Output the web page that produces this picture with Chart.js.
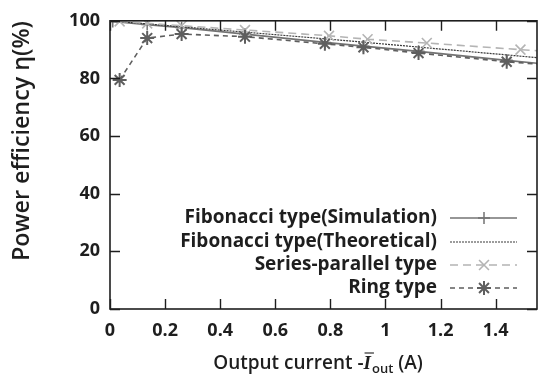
<!DOCTYPE html>
<html><head><meta charset="utf-8">
<script src="https://cdn.jsdelivr.net/npm/chart.js@4"></script>
<style>
html,body{margin:0;padding:0;background:#fff;overflow:hidden;}
#wrap{width:539px;height:376px;overflow:hidden;position:relative;}
#c{position:absolute;left:0;top:0;}
</style></head>
<body><div id="wrap"><canvas id="c" width="546" height="376" style="width:546px;height:376px"></canvas></div>
<script>
const xTickLabels = [0, 0.2, 0.4, 0.6, 0.8, 1, 1.2, 1.4];
const yTickLabels = [0, 20, 40, 60, 80, 100];
const seriesNames = ["Fibonacci type(Simulation)", "Fibonacci type(Theoretical)", "Series-parallel type", "Ring type"];

const fibSimX = [0.01, 0.135, 0.26, 0.49, 0.78, 0.92, 1.12, 1.44, 1.6];
const fibSimY = [99.8, 98.7, 97.6, 95.4, 92.5, 91.2, 89.4, 86.3, 84.8];
const fibTheoX = [0, 0.2, 0.4, 0.6, 0.8, 1.0, 1.2, 1.4, 1.6];
const fibTheoY = [100, 98.4, 96.8, 95.2, 93.6, 91.9, 90.2, 88.5, 86.8];
const spX = [0.035, 0.135, 0.26, 0.49, 0.795, 0.935, 1.15, 1.49, 1.6];
const spY = [99.8, 99.1, 98.3, 96.8, 94.8, 93.6, 92.3, 90.0, 89.3];
const ringX = [0.035, 0.135, 0.26, 0.49, 0.78, 0.92, 1.12, 1.44, 1.6];
const ringY = [79.5, 94.0, 95.4, 94.5, 92.0, 90.8, 88.8, 85.8, 84.6];

const pts = (xs, ys) => xs.map((x, i) => ({x: x, y: ys[i]}));
const FONT = '"Open Sans", "Liberation Sans", sans-serif';
const INK = '#1e1e1e';

const frame = {
  id: 'frame',
  afterDraw(chart) {
    const {ctx, chartArea: a, scales} = chart;
    ctx.save();
    ctx.strokeStyle = INK;
    ctx.lineWidth = 1.6;
    ctx.strokeRect(a.left, a.top, a.right - a.left, a.bottom - a.top);
    ctx.lineWidth = 1.4;
    const tl = 10;
    ctx.beginPath();
    xTickLabels.forEach(v => {
      const px = Math.round(scales.x.getPixelForValue(v)) + 0.5;
      ctx.moveTo(px, a.bottom); ctx.lineTo(px, a.bottom - tl);
      ctx.moveTo(px, a.top); ctx.lineTo(px, a.top + tl);
    });
    yTickLabels.forEach(v => {
      const py = Math.round(scales.y.getPixelForValue(v)) + 0.5;
      ctx.moveTo(a.left, py); ctx.lineTo(a.left + tl, py);
      ctx.moveTo(a.right, py); ctx.lineTo(a.right - tl, py);
    });
    ctx.stroke();

    // legend
    const rows = [218, 242, 265, 288];
    ctx.font = '700 19px ' + FONT;
    ctx.textAlign = 'right';
    ctx.textBaseline = 'middle';
    chart.data.datasets.forEach((ds, i) => {
      const y = rows[i];
      ctx.fillStyle = INK;
      ctx.fillText(ds.label, 437, y);
      ctx.save();
      ctx.strokeStyle = ds.borderColor;
      ctx.lineWidth = ds.borderWidth;
      ctx.setLineDash(ds.borderDash || []);
      ctx.beginPath(); ctx.moveTo(450, y); ctx.lineTo(517, y); ctx.stroke();
      ctx.setLineDash([]);
      if (ds.pointRadius > 0) {
        ctx.strokeStyle = ds.pointBorderColor;
        ctx.fillStyle = ds.pointBorderColor;
        ctx.lineWidth = ds.pointBorderWidth;
        Chart.helpers.drawPoint(ctx, {pointStyle: ds.pointStyle, radius: ds.pointRadius, borderWidth: ds.pointBorderWidth, rotation: 0}, 484, y);
      }
      ctx.restore();
    });

    // y title (sized to span the same length as the reference)
    ctx.save();
    const yt = 'Power efficiency η(%)';
    ctx.font = '600 20px ' + FONT;
    const wy = ctx.measureText(yt).width;
    const sz = Math.min(24, 20 * 240 / wy);
    ctx.font = '600 ' + sz.toFixed(1) + 'px ' + FONT;
    ctx.translate(22, 141);
    ctx.rotate(-Math.PI / 2);
    ctx.textAlign = 'center';
    ctx.textBaseline = 'middle';
    ctx.fillStyle = INK;
    ctx.fillText(yt, 0, 0);
    ctx.restore();

    // x title
    ctx.fillStyle = INK;
    ctx.textAlign = 'left';
    ctx.textBaseline = 'alphabetic';
    const base = 369;
    const partA = 'Output current -';
    const fA = '600 19px ' + FONT;
    const fI = 'italic 600 19px "Liberation Serif", serif';
    const fSub = '600 13px ' + FONT;
    ctx.font = fA; const wA = ctx.measureText(partA).width;
    ctx.font = fI; const wI = ctx.measureText('I').width;
    ctx.font = fSub; const wS = ctx.measureText('out').width;
    ctx.font = fA; const wB = ctx.measureText(' (A)').width;
    const total = wA + wI + 1 + wS + wB;
    let x0 = 318 - total / 2;
    ctx.font = fA; ctx.fillText(partA, x0, base); x0 += wA;
    ctx.font = fI; ctx.fillText('I', x0, base);
    ctx.lineWidth = 1.1; ctx.strokeStyle = INK;
    ctx.beginPath(); ctx.moveTo(x0 + 1, base - 16); ctx.lineTo(x0 + wI + 3, base - 16); ctx.stroke();
    x0 += wI + 1;
    ctx.font = fSub; ctx.fillText('out', x0, base + 4); x0 += wS;
    ctx.font = fA; ctx.fillText(' (A)', x0, base);
    ctx.restore();
  }
};

new Chart(document.getElementById('c'), {
  type: 'scatter',
  data: {
    datasets: [
      {label: seriesNames[0], data: pts(fibSimX, fibSimY), showLine: true, borderColor: '#737373', borderWidth: 1.7,
       pointStyle: 'cross', pointRadius: 6, pointBorderColor: '#737373', pointBorderWidth: 1.5, pointBackgroundColor: '#737373', order: 3},
      {label: seriesNames[1], data: pts(fibTheoX, fibTheoY), showLine: true, borderColor: '#3a3a3a', borderWidth: 1.2, borderDash: [2, 1],
       pointRadius: 0, pointStyle: 'circle', pointBorderColor: '#3a3a3a', pointBorderWidth: 0, order: 2},
      {label: seriesNames[2], data: pts(spX, spY), showLine: true, borderColor: '#b4b4b4', borderWidth: 1.6, borderDash: [8, 5],
       pointStyle: 'crossRot', pointRadius: 7, pointBorderColor: '#b4b4b4', pointBorderWidth: 1.6, pointBackgroundColor: '#b4b4b4', order: 1},
      {label: seriesNames[3], data: pts(ringX, ringY), showLine: true, borderColor: '#5e5e5e', borderWidth: 1.6, borderDash: [5, 4],
       pointStyle: 'star', pointRadius: 7, pointBorderColor: '#5e5e5e', pointBorderWidth: 2, pointBackgroundColor: '#5e5e5e', order: 0}
    ]
  },
  options: {
    responsive: false,
    animation: false,
    events: [],
    layout: {padding: {top: 20, right: 5, left: 0, bottom: 0}},
    plugins: {legend: {display: false}, tooltip: {enabled: false}, title: {display: false}},
    scales: {
      x: {
        type: 'linear', min: 0, max: 1.55,
        afterBuildTicks: s => { s.ticks = xTickLabels.map(v => ({value: v})); },
        afterFit: s => { s.height = 67; },
        grid: {display: false, drawTicks: false},
        border: {display: false},
        ticks: {color: INK, font: {family: FONT, size: 18, weight: '700'}, padding: 11, maxRotation: 0,
                callback: v => String(v)}
      },
      y: {
        type: 'linear', min: 0, max: 100,
        afterBuildTicks: s => { s.ticks = yTickLabels.map(v => ({value: v})); },
        afterFit: s => { s.width = 110; },
        grid: {display: false, drawTicks: false},
        border: {display: false},
        ticks: {color: INK, font: {family: FONT, size: 18, weight: '700'}, padding: 10}
      }
    }
  },
  plugins: [frame]
});
</script></body></html>
